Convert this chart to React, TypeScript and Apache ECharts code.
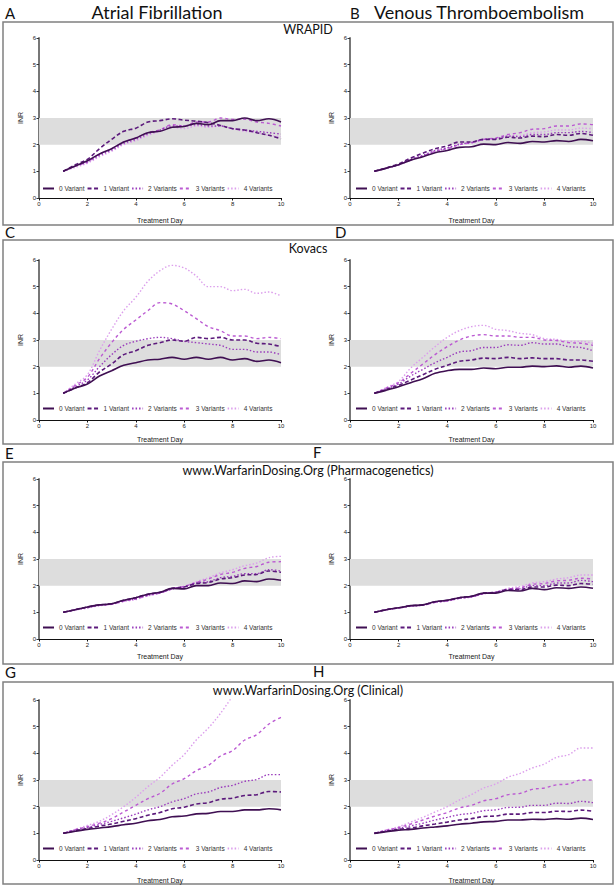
import React, { useEffect, useRef } from "react";
import * as echarts from "echarts";

const DAYS = [1, 1.5, 2, 2.5, 3, 3.5, 4, 4.5, 5, 5.5, 6, 6.5, 7, 7.5, 8, 8.5, 9, 9.5, 10];
const NAMES = ["0 Variant", "1 Variant", "2 Variants", "3 Variants", "4 Variants"];
const X_TICKS = [0, 2, 4, 6, 8, 10];
const Y_TICKS = [0, 1, 2, 3, 4, 5, 6];
const TARGET_RANGE = [2, 3];

// A: WRAPID, atrial fibrillation
const A0 = [1, 1.2, 1.4, 1.65, 1.85, 2.1, 2.25, 2.45, 2.5, 2.65, 2.68, 2.8, 2.75, 2.9, 2.9, 3.0, 2.9, 2.97, 2.85];
const A1 = [1, 1.25, 1.45, 1.85, 2.2, 2.5, 2.62, 2.85, 2.9, 2.97, 2.92, 2.88, 2.82, 2.72, 2.6, 2.55, 2.45, 2.35, 2.22];
const A2 = [1, 1.2, 1.35, 1.6, 1.8, 2.05, 2.2, 2.4, 2.55, 2.7, 2.7, 2.75, 2.7, 2.7, 2.6, 2.55, 2.5, 2.45, 2.4];
const A3 = [1, 1.2, 1.35, 1.65, 1.85, 2.1, 2.25, 2.45, 2.55, 2.75, 2.7, 2.85, 2.85, 3.0, 2.95, 2.95, 2.85, 2.8, 2.7];
const A4 = [1, 1.15, 1.3, 1.55, 1.75, 2.0, 2.15, 2.35, 2.5, 2.65, 2.6, 2.7, 2.65, 2.7, 2.6, 2.5, 2.45, 2.35, 2.3];
// B: WRAPID, venous thromboembolism
const B0 = [1, 1.12, 1.25, 1.42, 1.55, 1.7, 1.78, 1.9, 1.92, 2.02, 2.0, 2.08, 2.05, 2.12, 2.1, 2.15, 2.12, 2.2, 2.15];
const B1 = [1, 1.13, 1.28, 1.5, 1.68, 1.85, 1.95, 2.1, 2.1, 2.2, 2.2, 2.28, 2.25, 2.32, 2.3, 2.38, 2.35, 2.42, 2.35];
const B2 = [1, 1.12, 1.25, 1.45, 1.6, 1.78, 1.88, 2.02, 2.08, 2.2, 2.22, 2.32, 2.3, 2.38, 2.38, 2.45, 2.45, 2.5, 2.45];
const B3 = [1, 1.12, 1.24, 1.43, 1.58, 1.75, 1.85, 2.0, 2.08, 2.2, 2.25, 2.38, 2.45, 2.58, 2.6, 2.7, 2.7, 2.78, 2.75];
const B4 = [1, 1.12, 1.24, 1.43, 1.58, 1.75, 1.85, 2.0, 2.06, 2.18, 2.22, 2.32, 2.35, 2.45, 2.48, 2.55, 2.55, 2.62, 2.6];
// C: Kovacs, atrial fibrillation
const C0 = [1, 1.2, 1.35, 1.65, 1.85, 2.05, 2.15, 2.25, 2.28, 2.35, 2.28, 2.35, 2.28, 2.35, 2.25, 2.3, 2.2, 2.25, 2.15];
const C1 = [1, 1.2, 1.4, 1.8, 2.1, 2.45, 2.6, 2.8, 2.9, 3.0, 2.95, 3.1, 3.05, 3.1, 3.0, 3.0, 2.88, 2.85, 2.75];
const C2 = [1, 1.25, 1.5, 2.0, 2.45, 2.8, 2.95, 3.05, 3.1, 3.05, 2.95, 2.9, 2.85, 2.8, 2.65, 2.65, 2.55, 2.55, 2.45];
const C3 = [1, 1.3, 1.6, 2.3, 2.9, 3.4, 3.75, 4.1, 4.4, 4.35, 4.1, 3.8, 3.5, 3.35, 3.15, 3.15, 3.05, 3.1, 3.05];
const C4 = [1, 1.35, 1.7, 2.6, 3.4, 4.1, 4.6, 5.2, 5.6, 5.8, 5.7, 5.4, 5.0, 5.0, 4.85, 4.9, 4.75, 4.8, 4.65];
// D: Kovacs, venous thromboembolism
const D0 = [1, 1.12, 1.25, 1.4, 1.55, 1.75, 1.85, 1.9, 1.9, 1.95, 1.92, 1.98, 1.98, 2.02, 2.0, 2.03, 1.98, 2.02, 1.95];
const D1 = [1, 1.15, 1.3, 1.5, 1.7, 1.9, 2.05, 2.2, 2.25, 2.32, 2.3, 2.35, 2.3, 2.33, 2.3, 2.3, 2.25, 2.25, 2.2];
const D2 = [1, 1.17, 1.35, 1.65, 1.9, 2.15, 2.35, 2.55, 2.6, 2.72, 2.72, 2.82, 2.8, 2.9, 2.85, 2.85, 2.75, 2.72, 2.6];
const D3 = [1, 1.2, 1.4, 1.75, 2.1, 2.45, 2.75, 3.0, 3.15, 3.2, 3.15, 3.15, 3.1, 3.1, 3.0, 2.98, 2.9, 2.88, 2.8];
const D4 = [1, 1.22, 1.45, 1.95, 2.35, 2.75, 3.1, 3.35, 3.5, 3.55, 3.4, 3.35, 3.25, 3.2, 3.05, 3.02, 2.95, 2.95, 2.88];
// E: WarfarinDosing.org pharmacogenetic, atrial fibrillation
const E0 = [1, 1.1, 1.2, 1.28, 1.32, 1.45, 1.55, 1.68, 1.75, 1.9, 1.88, 2.0, 2.0, 2.1, 2.08, 2.18, 2.15, 2.25, 2.2];
const E1 = [1, 1.1, 1.2, 1.28, 1.32, 1.45, 1.55, 1.68, 1.75, 1.9, 1.95, 2.08, 2.12, 2.25, 2.3, 2.4, 2.42, 2.55, 2.5];
const E2 = [1, 1.1, 1.18, 1.27, 1.32, 1.44, 1.52, 1.65, 1.73, 1.88, 1.95, 2.1, 2.15, 2.3, 2.35, 2.45, 2.45, 2.6, 2.55];
const E3 = [1, 1.1, 1.18, 1.26, 1.3, 1.42, 1.5, 1.63, 1.72, 1.88, 1.97, 2.12, 2.25, 2.42, 2.5, 2.65, 2.72, 2.88, 2.9];
const E4 = [1, 1.08, 1.16, 1.25, 1.3, 1.4, 1.48, 1.62, 1.72, 1.88, 1.98, 2.15, 2.3, 2.48, 2.6, 2.75, 2.85, 3.05, 3.1];
// F: WarfarinDosing.org pharmacogenetic, venous thromboembolism
const F0 = [1, 1.1, 1.17, 1.25, 1.28, 1.4, 1.45, 1.55, 1.6, 1.72, 1.72, 1.82, 1.8, 1.9, 1.85, 1.92, 1.9, 1.95, 1.9];
const F1 = [1, 1.1, 1.17, 1.25, 1.28, 1.4, 1.45, 1.55, 1.6, 1.72, 1.75, 1.85, 1.85, 1.95, 1.95, 2.02, 2.0, 2.08, 2.05];
const F2 = [1, 1.1, 1.16, 1.24, 1.27, 1.38, 1.43, 1.53, 1.58, 1.7, 1.75, 1.85, 1.88, 2.0, 2.0, 2.1, 2.1, 2.2, 2.15];
const F3 = [1, 1.1, 1.16, 1.24, 1.27, 1.38, 1.43, 1.53, 1.58, 1.7, 1.75, 1.87, 1.92, 2.05, 2.08, 2.18, 2.2, 2.28, 2.25];
const F4 = [1, 1.1, 1.16, 1.23, 1.26, 1.37, 1.42, 1.52, 1.57, 1.7, 1.77, 1.9, 1.97, 2.1, 2.15, 2.25, 2.3, 2.4, 2.4];
// G: WarfarinDosing.org clinical, atrial fibrillation
const G0 = [1, 1.08, 1.15, 1.2, 1.25, 1.32, 1.38, 1.47, 1.52, 1.62, 1.65, 1.73, 1.75, 1.82, 1.82, 1.88, 1.88, 1.92, 1.88];
const G1 = [1, 1.1, 1.18, 1.27, 1.35, 1.45, 1.55, 1.68, 1.78, 1.92, 1.98, 2.1, 2.15, 2.28, 2.32, 2.42, 2.45, 2.57, 2.55];
const G2 = [1, 1.12, 1.22, 1.33, 1.45, 1.58, 1.72, 1.88, 2.0, 2.18, 2.3, 2.48, 2.55, 2.72, 2.8, 2.95, 3.02, 3.2, 3.2];
const G3 = [1, 1.14, 1.25, 1.38, 1.55, 1.8, 2.05, 2.3, 2.5, 2.85, 3.05, 3.35, 3.55, 3.9, 4.1, 4.5, 4.7, 5.1, 5.35];
const G4 = [1, 1.15, 1.3, 1.45, 1.7, 2.0, 2.35, 2.75, 3.1, 3.55, 3.95, 4.5, 4.95, 5.5, 6.15, null, null, null, null];
// H: WarfarinDosing.org clinical, venous thromboembolism
const H0 = [1, 1.06, 1.12, 1.15, 1.2, 1.24, 1.28, 1.34, 1.38, 1.43, 1.45, 1.5, 1.5, 1.53, 1.52, 1.55, 1.53, 1.57, 1.52];
const H1 = [1, 1.08, 1.15, 1.2, 1.28, 1.35, 1.42, 1.5, 1.55, 1.63, 1.65, 1.72, 1.72, 1.78, 1.78, 1.83, 1.82, 1.87, 1.83];
const H2 = [1, 1.1, 1.18, 1.28, 1.38, 1.5, 1.6, 1.7, 1.75, 1.85, 1.88, 1.97, 1.98, 2.05, 2.05, 2.13, 2.12, 2.2, 2.15];
const H3 = [1, 1.12, 1.22, 1.35, 1.5, 1.65, 1.78, 1.95, 2.05, 2.22, 2.3, 2.45, 2.5, 2.65, 2.7, 2.82, 2.85, 3.0, 3.0];
const H4 = [1, 1.13, 1.25, 1.42, 1.6, 1.8, 2.0, 2.25, 2.45, 2.7, 2.85, 3.1, 3.25, 3.45, 3.6, 3.85, 3.95, 4.2, 4.2];

const PANELS = [
  [A0, A1, A2, A3, A4], [B0, B1, B2, B3, B4],
  [C0, C1, C2, C3, C4], [D0, D1, D2, D3, D4],
  [E0, E1, E2, E3, E4], [F0, F1, F2, F3, F4],
  [G0, G1, G2, G3, G4], [H0, H1, H2, H3, H4],
];
const PANEL_LETTERS = ["A", "B", "C", "D", "E", "F", "G", "H"];
const COLUMN_TITLES = ["Atrial Fibrillation", "Venous Thromboembolism"];
const ROW_TITLES = ["WRAPID", "Kovacs", "www.WarfarinDosing.Org (Pharmacogenetics)", "www.WarfarinDosing.Org (Clinical)"];

const COLORS = ["#3f0f52", "#5c1a7c", "#9a3cbc", "#bb5ad2", "#dc9fec"];
const DASHES: any[] = ["solid", [4, 2.5], [1.5, 2], [3, 3], [1.5, 2]];
const WIDTHS = [1.6, 1.6, 1.4, 1.4, 1.4];

const ROW_BOX = [[22, 225], [240, 444], [462, 664], [682, 884]];
const ROW_PLOT = [[38, 198], [260, 420], [479, 639], [700, 860]];
const ROW_NAME_GAP = [19, 16, 14, 17];
const COL_PLOT = [[39, 281], [350, 593]];
const LETTER_POS = [[5, 14], [350, 14], [5, 233], [335, 233], [5, 454], [313, 453], [5, 673], [313, 672]];

const AX_FONT = "Liberation Sans, Arial, sans-serif";
const TITLE_FONT = "Lato, 'Open Sans', sans-serif";

export default function App() {
  const ref = useRef<HTMLDivElement>(null);
  useEffect(() => {
    if (!ref.current) return;
    const chart = echarts.init(ref.current, null, { renderer: "svg" });
    const grids: any[] = [];
    const xAxes: any[] = [];
    const yAxes: any[] = [];
    const legends: any[] = [];
    const series: any[] = [];
    const graphics: any[] = [];

    PANELS.forEach((panel, p) => {
      const row = Math.floor(p / 2);
      const col = p % 2;
      const [l, r] = COL_PLOT[col];
      const [t, b] = ROW_PLOT[row];
      grids.push({ left: l, top: t, width: r - l, height: b - t, containLabel: false });
      xAxes.push({
        type: "value", gridIndex: p, min: X_TICKS[0], max: X_TICKS[X_TICKS.length - 1], interval: 2,
        name: "Treatment Day", nameLocation: "middle", nameGap: ROW_NAME_GAP[row],
        nameTextStyle: { fontSize: 7, color: "#222", fontFamily: AX_FONT },
        axisLine: { lineStyle: { color: "#111", width: 1 } },
        axisTick: { length: 2.5, lineStyle: { color: "#111" } },
        axisLabel: { fontSize: 6, color: "#222", margin: 3, fontFamily: AX_FONT },
        splitLine: { show: false },
      });
      yAxes.push({
        type: "value", gridIndex: p, min: Y_TICKS[0], max: Y_TICKS[Y_TICKS.length - 1], interval: 1,
        name: "INR", nameLocation: "middle", nameGap: 15, nameRotate: 90,
        nameTextStyle: { fontSize: 7, color: "#222", fontFamily: AX_FONT },
        axisLine: { show: true, lineStyle: { color: "#777", width: 2 } },
        axisTick: { show: true, length: 2.5, lineStyle: { color: "#333" } },
        axisLabel: { fontSize: 6, color: "#222", margin: 3, fontFamily: AX_FONT },
        splitLine: { show: false },
      });
      legends.push({
        data: NAMES, left: l + (col === 0 ? 3 : 5), top: b - (row === 0 ? 13 : 15),
        orient: "horizontal", itemWidth: 11, itemHeight: 6, itemGap: 2, padding: 0,
        selectedMode: false,
        itemStyle: { opacity: 0 },
        textStyle: { fontSize: 6.5, color: "#333", fontFamily: AX_FONT },
      });
      panel.forEach((vals, v) => {
        const s: any = {
          type: "line", name: NAMES[v], xAxisIndex: p, yAxisIndex: p,
          data: DAYS.map((d, i) => [d, vals[i]]),
          symbol: "none", smooth: 0.35, clip: true, z: 3 + (4 - v),
          lineStyle: { color: COLORS[v], width: WIDTHS[v], type: DASHES[v] },
          itemStyle: { color: COLORS[v] },
        };
        if (v === 0) {
          s.markArea = {
            silent: true, z: 1,
            itemStyle: { color: "#dddddd" },
            data: [[{ xAxis: X_TICKS[0], yAxis: TARGET_RANGE[0] }, { xAxis: X_TICKS[X_TICKS.length - 1], yAxis: TARGET_RANGE[1] }]],
          };
        }
        series.push(s);
      });
      graphics.push({
        type: "text", left: LETTER_POS[p][0], top: LETTER_POS[p][1] - 9,
        style: { text: PANEL_LETTERS[p], fontSize: 15, fontFamily: TITLE_FONT, fill: "#111" },
      });
    });

    ROW_BOX.forEach(([t, b], row) => {
      graphics.push({
        type: "rect", shape: { x: 3, y: t, width: 610, height: b - t },
        style: { fill: "none", stroke: "#808080", lineWidth: 1.5 }, z: 0,
      });
      graphics.push({
        type: "text", x: 308, y: t + (row === 0 ? 7 : 8),
        style: { text: ROW_TITLES[row], fontSize: 12.5, fontFamily: TITLE_FONT, fill: "#111", align: "center", verticalAlign: "middle" },
      });
    });
    graphics.push({
      type: "text", x: 157, y: 12,
      style: { text: COLUMN_TITLES[0], fontSize: 18, fontFamily: TITLE_FONT, fill: "#111", align: "center", verticalAlign: "middle" },
    });
    graphics.push({
      type: "text", x: 479, y: 12,
      style: { text: COLUMN_TITLES[1], fontSize: 18, fontFamily: TITLE_FONT, fill: "#111", align: "center", verticalAlign: "middle" },
    });

    chart.setOption({
      animation: false,
      backgroundColor: "#ffffff",
      grid: grids, xAxis: xAxes, yAxis: yAxes, legend: legends, series, graphic: graphics,
    });
    return () => chart.dispose();
  }, []);
  return <div ref={ref} style={{ position: "fixed", left: 0, top: 0, width: 616, height: 888 }} />;
}
